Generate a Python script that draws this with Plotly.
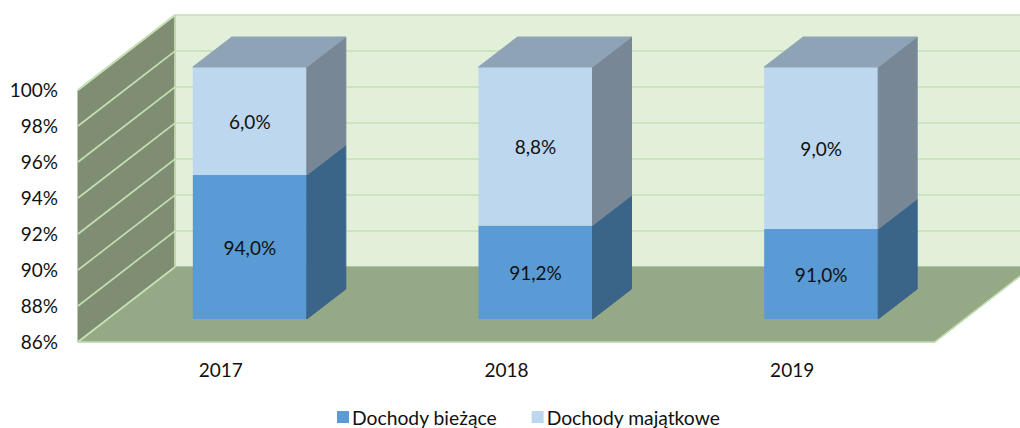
import plotly.graph_objects as go

# --- data ---
YEARS = ["2017", "2018", "2019"]
DOCHODY_BIEZACE = [94.0, 91.2, 91.0]
DOCHODY_MAJATKOWE = [6.0, 8.8, 9.0]
SERIES_NAMES = ["Dochody bieżące", "Dochody majątkowe"]
TICKS = [86, 88, 90, 92, 94, 96, 98, 100]

# --- layout constants (pixels) ---
W, H = 1020, 428
PLANE_L, PLANE_R, PLANE_T, PLANE_B = 78, 935, 90, 342   # front plane of the 3-D box
PX_X = (PLANE_R - PLANE_L) / 3
PX_Y = (PLANE_B - PLANE_T) / 14
FONT = "Lato"
FS = 19
TXT = "#111111"

# 3-D projection in axis units
WALL_DX, WALL_DY = 97 / PX_X, 75 / PX_Y
BAR_SHIFT_X, BAR_SHIFT_Y = 29 / PX_X, 23 / PX_Y
BAR_DX, BAR_DY = 39 / PX_X, 30 / PX_Y
BAR_W = 114 / PX_X
X0, X1, Y0, Y1 = -0.5, 2.5, 86, 100
BASE = 86

# whole-figure axis ranges, so the projected box is not clipped
XR = [X0 - PLANE_L / PX_X, X0 + (W - PLANE_L) / PX_X]
YR = [Y0 - (H - PLANE_B) / PX_Y, Y0 + PLANE_B / PX_Y]

GRID = "#C5E0B4"
fig = go.Figure()


def poly(xs, ys, fill, line=None, lw=1, xa="x", ya="y"):
    fig.add_trace(go.Scatter(
        x=xs, y=ys, mode="lines", fill="toself" if fill else None, fillcolor=fill,
        line=dict(color=line or fill or GRID, width=lw), xaxis=xa, yaxis=ya,
        showlegend=False, hoverinfo="skip"))


# back wall
poly([X0 + WALL_DX, X1 + WALL_DX, X1 + WALL_DX, X0 + WALL_DX, X0 + WALL_DX],
     [Y0 + WALL_DY, Y0 + WALL_DY, Y1 + WALL_DY, Y1 + WALL_DY, Y0 + WALL_DY], "#E2EFD9")
# left wall
poly([X0, X0 + WALL_DX, X0 + WALL_DX, X0, X0],
     [Y0, Y0 + WALL_DY, Y1 + WALL_DY, Y1, Y0], "#7F8E72")
# gridlines on both walls
for v in TICKS:
    poly([X0, X0 + WALL_DX, X1 + WALL_DX],
         [v, v + WALL_DY, v + WALL_DY], None, GRID, 1.6)
# floor
poly([X0, X1, X1 + WALL_DX, X0 + WALL_DX, X0],
     [Y0, Y0, Y0 + WALL_DY, Y0 + WALL_DY, Y0], "#95A986")
poly([X0 + WALL_DX, X0, X1, X1 + WALL_DX], [Y0 + WALL_DY, Y0, Y0, Y0 + WALL_DY], None, GRID, 1.6)
poly([X0, X0 + WALL_DX, X0 + WALL_DX], [Y1, Y1 + WALL_DY, Y0 + WALL_DY], None, GRID, 1.6)

# bars (overlay subplot, true values, shifted into the depth of the floor)
xs = list(range(len(YEARS)))


def label(v):
    return f"{v:.1f}%".replace(".", ",")


fig.add_trace(go.Bar(
    x=xs, y=[v - BASE for v in DOCHODY_BIEZACE], base=BASE, width=BAR_W,
    name=SERIES_NAMES[0] + "\u00a0",
    marker=dict(color="#5B9BD5", line=dict(width=0)), xaxis="x2", yaxis="y2",
    text=[label(v) for v in DOCHODY_BIEZACE], textposition="inside", insidetextanchor="middle",
    textangle=0, textfont=dict(family=FONT, size=FS, color=TXT),
    constraintext="none", hoverinfo="skip"))
fig.add_trace(go.Bar(
    x=xs, y=DOCHODY_MAJATKOWE, base=DOCHODY_BIEZACE, width=BAR_W, name=SERIES_NAMES[1],
    marker=dict(color="#BDD7EE", line=dict(width=0)), xaxis="x2", yaxis="y2",
    text=[label(v) for v in DOCHODY_MAJATKOWE], textposition="inside", insidetextanchor="middle",
    textangle=0, textfont=dict(family=FONT, size=FS, color=TXT),
    constraintext="none", hoverinfo="skip"))

# bar side and top faces derived from the values
for i in xs:
    xr = i + BAR_W / 2
    xl = i - BAR_W / 2
    lo, mid = BASE, DOCHODY_BIEZACE[i]
    hi = mid + DOCHODY_MAJATKOWE[i]
    poly([xr, xr + BAR_DX, xr + BAR_DX, xr, xr],
         [lo, lo + BAR_DY, mid + BAR_DY, mid, lo], "#3A6488", xa="x2", ya="y2")
    poly([xr, xr + BAR_DX, xr + BAR_DX, xr, xr],
         [mid, mid + BAR_DY, hi + BAR_DY, hi, mid], "#788796", xa="x2", ya="y2")
    poly([xl, xr, xr + BAR_DX, xl + BAR_DX, xl],
         [hi, hi, hi + BAR_DY, hi + BAR_DY, hi], "#8EA3B6", xa="x2", ya="y2")

fig.update_layout(
    width=W, height=H, margin=dict(l=0, r=0, t=0, b=0, pad=0, autoexpand=False),
    paper_bgcolor="white", plot_bgcolor="rgba(0,0,0,0)", barmode="overlay",
    font=dict(family=FONT, size=FS, color=TXT),
    xaxis=dict(range=XR, domain=[0, 1], tickmode="array", tickvals=xs, ticktext=YEARS, showgrid=False,
               zeroline=False, showline=False, ticks="", ticklabelstandoff=15,
               anchor="free", position=(H - PLANE_B) / H),
    yaxis=dict(range=YR, domain=[0, 1], tickmode="array", tickvals=TICKS, ticktext=[f"{t}%" for t in TICKS],
               showgrid=False, zeroline=False, showline=False, ticks="", ticklabelstandoff=20,
               anchor="free", position=PLANE_L / W),
    xaxis2=dict(range=[r - BAR_SHIFT_X for r in XR], overlaying="x", visible=False),
    yaxis2=dict(range=[r - BAR_SHIFT_Y for r in YR], overlaying="y", visible=False),
    legend=dict(orientation="h", x=312 / W, xanchor="left", y=30 / H, yanchor="top",
                traceorder="normal", font=dict(family=FONT, size=19.3, color=TXT)),
)

# the default page has a body margin; the window is exactly the figure's size
POST = ("document.body.style.margin='0';document.body.style.overflow='hidden';"
        "setTimeout(function(){document.querySelectorAll('.legendpoints path').forEach(function(p){"
        "p.setAttribute('transform',(p.getAttribute('transform')||'')+' translate(11,0)');});},100);")
fig.write_html("out.html", post_script=POST, config={"displayModeBar": False})
